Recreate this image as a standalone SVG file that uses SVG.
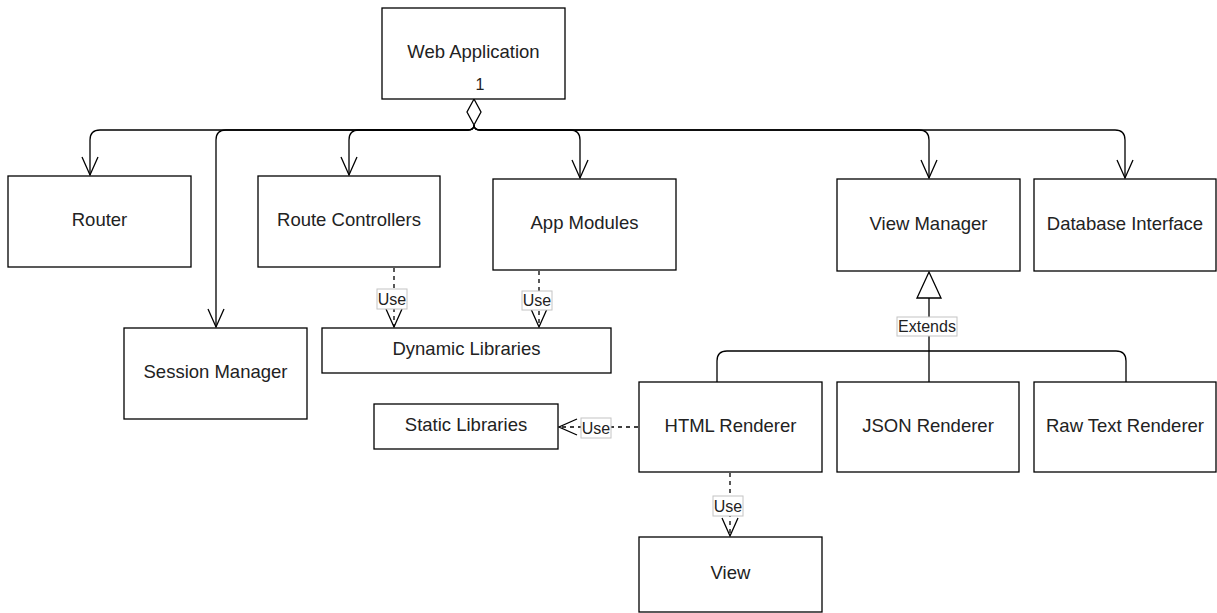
<svg xmlns="http://www.w3.org/2000/svg" width="1217" height="613" viewBox="0 0 1217 613">
<style>
.box{fill:#fff;stroke:#000;stroke-width:1.3}
.t{font-family:"Liberation Sans",Arial,sans-serif;font-size:18.5px;fill:#222;text-anchor:middle}
.c{fill:none;stroke:#000;stroke-width:1.3}
.d{fill:none;stroke:#000;stroke-width:1.3;stroke-dasharray:4 4}
.lb{fill:#fff;stroke:#c4c4c4;stroke-width:1}
.lt{font-family:"Liberation Sans",Arial,sans-serif;font-size:16px;fill:#222;text-anchor:middle}
</style>
<defs>
<marker id="open" viewBox="0 -10 22 20" refX="20" refY="0" markerWidth="22" markerHeight="20" markerUnits="userSpaceOnUse" orient="auto">
<path d="M2,-8 L20,0 L2,8" fill="none" stroke="#000" stroke-width="1.3" stroke-dasharray="none"/>
</marker>
</defs>
<rect width="1217" height="613" fill="#fff"/>
<g id="connectors">
<path class="c" d="M474,125 Q474,130 468,130 H100 Q90,130 90,140 V175" marker-end="url(#open)"/>
<path class="c" d="M474,125 Q474,130 468,130 H226 Q216,130 216,140 V327" marker-end="url(#open)"/>
<path class="c" d="M474,125 Q474,130 468,130 H359 Q349,130 349,140 V175" marker-end="url(#open)"/>
<path class="c" d="M474,125 Q474,130 480,130 H570 Q580,130 580,140 V178" marker-end="url(#open)"/>
<path class="c" d="M474,125 Q474,130 480,130 H919 Q929,130 929,140 V178" marker-end="url(#open)"/>
<path class="c" d="M474,125 Q474,130 480,130 H1115 Q1125,130 1125,140 V178" marker-end="url(#open)"/>
<polygon points="474,99 481,112 474,125 467,112" fill="#fff" stroke="#000" stroke-width="1.3"/>
<path class="d" d="M394,268 V327" marker-end="url(#open)"/>
<path class="d" d="M539,271 V327" marker-end="url(#open)"/>
<path class="d" d="M638,427 H559" marker-end="url(#open)"/>
<path class="d" d="M730,473 V536" marker-end="url(#open)"/>
<path class="c" d="M929,382 V298"/>
<path class="c" d="M717,382 V361 Q717,351 727,351 H929"/>
<path class="c" d="M1126,382 V361 Q1126,351 1116,351 H929"/>
<polygon points="929,272 941,298 917,298" fill="#fff" stroke="#000" stroke-width="1.3"/>
<rect class="lb" x="377" y="289" width="30" height="20"/>
<text class="lt" x="392" y="305">Use</text>
<rect class="lb" x="522" y="291" width="30" height="19"/>
<text class="lt" x="537" y="306">Use</text>
<rect class="lb" x="581" y="418" width="30" height="20"/>
<text class="lt" x="596" y="434">Use</text>
<rect class="lb" x="713" y="496" width="30" height="20"/>
<text class="lt" x="728" y="512">Use</text>
<rect class="lb" x="897" y="317" width="60" height="19"/>
<text class="lt" x="927" y="332">Extends</text>
</g>
<g id="webapp"><rect class="box" x="382" y="8" width="183" height="91"/><text class="t" x="473.5" y="58">Web Application</text><text class="lt" x="480" y="90">1</text></g>
<g id="router"><rect class="box" x="8" y="176" width="183" height="91"/><text class="t" x="99.5" y="226">Router</text></g>
<g id="session"><rect class="box" x="124" y="328" width="183" height="91"/><text class="t" x="215.5" y="378">Session Manager</text></g>
<g id="routectl"><rect class="box" x="258" y="176" width="182" height="91"/><text class="t" x="349" y="226">Route Controllers</text></g>
<g id="appmod"><rect class="box" x="493" y="179" width="183" height="91"/><text class="t" x="584.5" y="229">App Modules</text></g>
<g id="dynlib"><rect class="box" x="322" y="328" width="289" height="45"/><text class="t" x="466.5" y="355">Dynamic Libraries</text></g>
<g id="viewmgr"><rect class="box" x="837" y="179" width="183" height="92"/><text class="t" x="928.5" y="229.5">View Manager</text></g>
<g id="dbif"><rect class="box" x="1034" y="179" width="182" height="92"/><text class="t" x="1125" y="229.5">Database Interface</text></g>
<g id="staticlib"><rect class="box" x="374" y="404" width="184" height="45"/><text class="t" x="466" y="431">Static Libraries</text></g>
<g id="html"><rect class="box" x="639" y="382" width="183" height="90"/><text class="t" x="730.5" y="431.5">HTML Renderer</text></g>
<g id="json"><rect class="box" x="837" y="382" width="182" height="90"/><text class="t" x="928" y="431.5">JSON Renderer</text></g>
<g id="raw"><rect class="box" x="1034" y="382" width="182" height="90"/><text class="t" x="1125" y="431.5">Raw Text Renderer</text></g>
<g id="view"><rect class="box" x="639" y="537" width="183" height="75"/><text class="t" x="730.5" y="579">View</text></g>
</svg>
